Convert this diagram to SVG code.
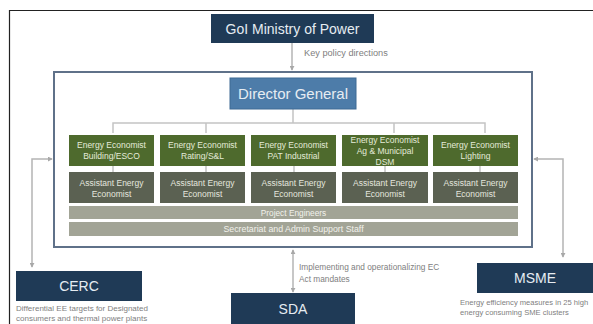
<svg xmlns="http://www.w3.org/2000/svg" width="593" height="324" viewBox="0 0 593 324">
<defs>
<marker id="ah" viewBox="0 0 6 6" refX="5" refY="3" markerWidth="5" markerHeight="5" orient="auto-start-reverse" markerUnits="userSpaceOnUse">
<path d="M0,0 L6,3 L0,6 Z" fill="#a8a8a8"/>
</marker>
<style>
text{font-family:"Liberation Sans",Arial,sans-serif;}
.navy{fill:#1f3a56;}
.hdr{fill:#e6ecf2;font-size:14px;text-anchor:middle;}
.big{fill:#e6ecf2;font-size:15px;text-anchor:middle;}
.green{fill:#4e6a2d;}
.olive{fill:#5b6152;}
.bar{fill:#a2a496;}
.gt{fill:#e4ead9;font-size:8.5px;text-anchor:middle;}
.ot{fill:#e4e6df;font-size:8.5px;text-anchor:middle;}
.bt{fill:#f2f2ec;font-size:8.3px;text-anchor:middle;}
.note{fill:#808080;font-size:8px;}
.lbl{fill:#808080;font-size:8.3px;}
.con{stroke:#b4b4b4;stroke-width:1.5;fill:none;}
.tree{stroke:#c4c4c4;stroke-width:1.5;fill:none;}
</style>
</defs>
<rect x="0" y="0" width="593" height="324" fill="#ffffff"/>
<path d="M9.5,324 V10.5 H593" stroke="#222" stroke-width="1.2" fill="none"/>

<g id="connectors">
<line class="con" x1="292" y1="43" x2="292" y2="70" marker-end="url(#ah)"/>
<path class="con" d="M52,159 H32 V267" marker-start="url(#ah)" marker-end="url(#ah)"/>
<path class="con" d="M534,159 H563 V257" marker-start="url(#ah)" marker-end="url(#ah)"/>
<line class="con" x1="293" y1="250" x2="293" y2="292" marker-start="url(#ah)" marker-end="url(#ah)"/>
<path class="tree" d="M293,109 V123 M113,133 V123 H485 V133 M206,123 V133 M394,123 V133"/>
<path class="tree" d="M113,166 V172 M206,166 V172 M294,166 V172 M385,166 V172 M480,166 V172"/>
</g>
<text class="lbl" x="304" y="56" style="font-size:9.2px">Key policy directions</text>
<text class="lbl" x="299" y="270">Implementing and operationalizing EC</text>
<text class="lbl" x="299" y="282">Act mandates</text>

<g id="ministry">
<rect class="navy" x="211" y="14" width="163" height="29"/>
<text class="hdr" x="292.5" y="34">GoI Ministry of Power</text>
</g>

<g id="bee">
<rect x="54" y="72" width="478" height="175" fill="none" stroke="#5f7189" stroke-width="2"/>
</g>

<g id="dg">
<rect x="230" y="78" width="126" height="31" fill="#4d7ca9" stroke="#3f6a94" stroke-width="1"/>
<text class="big" x="293" y="99">Director General</text>
</g>

<g id="ee1"><rect class="green" x="69" y="135" width="85" height="31"/>
<text class="gt" x="111.5" y="148">Energy Economist</text><text class="gt" x="111.5" y="159">Building/ESCO</text></g>
<g id="ee2"><rect class="green" x="160" y="135" width="85" height="31"/>
<text class="gt" x="202.5" y="148">Energy Economist</text><text class="gt" x="202.5" y="159">Rating/S&amp;L</text></g>
<g id="ee3"><rect class="green" x="251" y="135" width="85" height="31"/>
<text class="gt" x="293.5" y="148">Energy Economist</text><text class="gt" x="293.5" y="159">PAT Industrial</text></g>
<g id="ee4"><rect class="green" x="342" y="135" width="86" height="31"/>
<text class="gt" x="385" y="143">Energy Economist</text><text class="gt" x="385" y="154">Ag &amp; Municipal</text><text class="gt" x="385" y="165">DSM</text></g>
<g id="ee5"><rect class="green" x="433" y="135" width="85" height="31"/>
<text class="gt" x="475.5" y="148">Energy Economist</text><text class="gt" x="475.5" y="159">Lighting</text></g>

<g id="aee1"><rect class="olive" x="69" y="172" width="85" height="31"/>
<text class="ot" x="111.5" y="186">Assistant Energy</text><text class="ot" x="111.5" y="197">Economist</text></g>
<g id="aee2"><rect class="olive" x="160" y="172" width="85" height="31"/>
<text class="ot" x="202.5" y="186">Assistant Energy</text><text class="ot" x="202.5" y="197">Economist</text></g>
<g id="aee3"><rect class="olive" x="251" y="172" width="85" height="31"/>
<text class="ot" x="293.5" y="186">Assistant Energy</text><text class="ot" x="293.5" y="197">Economist</text></g>
<g id="aee4"><rect class="olive" x="342" y="172" width="86" height="31"/>
<text class="ot" x="385" y="186">Assistant Energy</text><text class="ot" x="385" y="197">Economist</text></g>
<g id="aee5"><rect class="olive" x="433" y="172" width="85" height="31"/>
<text class="ot" x="475.5" y="186">Assistant Energy</text><text class="ot" x="475.5" y="197">Economist</text></g>

<g id="pe"><rect class="bar" x="69" y="206" width="449" height="13"/>
<text class="bt" x="293.5" y="215.5">Project Engineers</text></g>
<g id="sec"><rect class="bar" x="69" y="222" width="449" height="14"/>
<text class="bt" x="293.5" y="232" style="font-size:8.8px">Secretariat and Admin Support Staff</text></g>

<g id="cerc">
<rect class="navy" x="16" y="271" width="126" height="30"/>
<text class="hdr" x="79" y="291">CERC</text>
<text class="note" x="16" y="311">Differential EE targets for Designated</text>
<text class="note" x="16" y="321">consumers and thermal power plants</text>
</g>

<g id="sda">
<rect class="navy" x="231" y="293" width="124" height="31"/>
<text class="hdr" x="293" y="314">SDA</text>
</g>

<g id="msme">
<rect class="navy" x="477" y="263" width="116" height="30"/>
<text class="hdr" x="535" y="283">MSME</text>
<text class="note" x="460" y="305" style="font-size:7.6px">Energy efficiency measures in 25 high</text>
<text class="note" x="460" y="315" style="font-size:7.6px">energy consuming SME clusters</text>
</g>
</svg>
